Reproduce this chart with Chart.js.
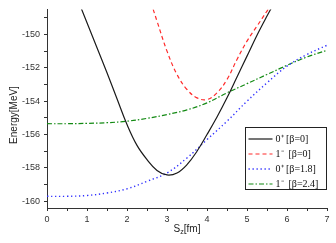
<!DOCTYPE html>
<html>
<head>
<meta charset="utf-8">
<script src="https://cdn.jsdelivr.net/npm/chart.js@4/dist/chart.umd.min.js"></script>
<style>
  html, body { margin: 0; padding: 0; background: #fff; }
  #wrap { position: relative; width: 336px; height: 243px; }
</style>
</head>
<body>
<div id="wrap"><canvas id="chart"></canvas></div>
<script>
// 0+ [beta=0]
const szBlack = [0.75, 1.0, 1.25, 1.5, 1.75, 2.0, 2.25, 2.5, 2.75, 3.0, 3.25, 3.5, 3.75, 4.0, 4.25, 4.5, 4.75, 5.0, 5.25, 5.5, 5.75]
const eBlack = [-147.8, -149.3, -150.8, -152.3, -153.85, -155.4, -156.65, -157.5, -158.15, -158.42, -158.3, -157.8, -157.0, -156.0, -154.95, -153.8, -152.55, -151.3, -150.05, -148.9, -147.8]
// 1- [beta=0]
const szRed = [2.6, 2.75, 3.0, 3.25, 3.5, 3.75, 4.0, 4.25, 4.5, 4.75, 5.0, 5.25, 5.5, 5.75]
const eRed = [-148.1, -149.2, -151.0, -152.4, -153.3, -153.8, -153.9, -153.5, -152.7, -151.5, -150.4, -149.5, -148.6, -147.7]
// 0+ [beta=1.8]
const szBlue = [0, 0.5, 1.0, 1.5, 2.0, 2.5, 3.0, 3.5, 4.0, 4.5, 5.0, 5.5, 6.0, 6.5, 7.0]
const eBlue = [-159.7, -159.7, -159.65, -159.5, -159.25, -158.8, -158.3, -157.4, -156.3, -155.2, -154.0, -152.9, -151.9, -151.2, -150.65]
// 1- [beta=2.4]
const szGreen = [0, 0.5, 1.0, 1.5, 2.0, 2.5, 3.0, 3.5, 4.0, 4.5, 5.0, 5.5, 6.0, 6.5, 7.0]
const eGreen = [-155.35, -155.35, -155.33, -155.29, -155.2, -155.03, -154.8, -154.52, -154.1, -153.5, -152.95, -152.4, -151.85, -151.35, -150.95]

const seriesNames = ["0\u207A [\u03B2=0]", "1\u207B  [\u03B2=0]", "0\u207A [\u03B2=1.8]", "1\u207B  [\u03B2=2.4]"]
const xTitle = ["S", "z", "[fm]"]
const yTitle = "Energy[MeV]"

const axisColor = "#333"
const tickFont = { family: "'Liberation Sans', Arial, sans-serif", size: 9 }

function pts(xs, ys) {
  return xs.map((x, i) => ({ x: x, y: ys[i] }))
}

function line(label, data, color, dash, width) {
  return {
    label: label,
    data: data,
    borderColor: color,
    borderWidth: width,
    borderDash: dash,
    pointRadius: 0,
    fill: false,
    tension: 0.4
  }
}

// legend box + axis titles drawn by hand (subscript / superscripts)
const extras = {
  id: "extras",
  afterDraw(chart) {
    const ctx = chart.ctx
    const area = chart.chartArea
    ctx.save()

    // legend
    const bx = 245.5, by = 127.5, bw = 81, bh = 62
    ctx.fillStyle = "#fff"
    ctx.fillRect(bx, by, bw, bh)
    ctx.strokeStyle = "#222"
    ctx.lineWidth = 1
    ctx.setLineDash([])
    ctx.strokeRect(bx, by, bw, bh)
    chart.data.datasets.forEach((ds, i) => {
      const y = by + 11.5 + i * 15
      ctx.beginPath()
      ctx.strokeStyle = ds.borderColor
      ctx.lineWidth = ds.borderWidth
      ctx.setLineDash(ds.borderDash || [])
      ctx.moveTo(bx + 3, y)
      ctx.lineTo(bx + 27, y)
      ctx.stroke()
      ctx.setLineDash([])
      ctx.fillStyle = "#111"
      ctx.font = "10px 'Liberation Serif', 'Times New Roman', serif"
      ctx.textBaseline = "middle"
      ctx.textAlign = "left"
      ctx.fillText(ds.label, bx + 30, y + 0.5)
    })

    // x title with subscript
    ctx.fillStyle = "#222"
    ctx.textBaseline = "alphabetic"
    const big = "10px 'Liberation Sans', Arial, sans-serif"
    const small = "7px 'Liberation Sans', Arial, sans-serif"
    ctx.font = big
    const w0 = ctx.measureText(xTitle[0]).width
    const w2 = ctx.measureText(xTitle[2]).width
    ctx.font = small
    const w1 = ctx.measureText(xTitle[1]).width
    const total = w0 + w1 + w2
    let x = (area.left + area.right) / 2 - total / 2
    const base = 232
    ctx.font = big
    ctx.fillText(xTitle[0], x, base)
    x += w0
    ctx.font = small
    ctx.fillText(xTitle[1], x, base + 2)
    x += w1
    ctx.font = big
    ctx.fillText(xTitle[2], x, base)

    // y title
    ctx.translate(14, 115)
    ctx.rotate(-Math.PI / 2)
    ctx.font = big
    ctx.textAlign = "center"
    ctx.textBaseline = "middle"
    ctx.fillText(yTitle, 0, 0)
    ctx.restore()
  }
}

new Chart(document.getElementById("chart"), {
  type: "line",
  data: {
    datasets: [
      line(seriesNames[0], pts(szBlack, eBlack), "#1a1a1a", [], 1.2),
      line(seriesNames[1], pts(szRed, eRed), "#ff2a2a", [4, 3], 1.2),
      line(seriesNames[2], pts(szBlue, eBlue), "#3030ff", [1.3, 2.7], 1.4),
      line(seriesNames[3], pts(szGreen, eGreen), "#138a13", [5, 2, 1.5, 2], 1.2)
    ]
  },
  options: {
    responsive: true,
    maintainAspectRatio: false,
    animation: false,
    events: [],
    layout: { padding: { top: 5, right: 9, left: 0, bottom: 0 } },
    plugins: {
      legend: { display: false },
      tooltip: { enabled: false }
    },
    scales: {
      x: {
        type: "linear",
        min: 0,
        max: 7,
        afterFit(scale) { scale.height = 35 },
        border: { display: true, color: axisColor, width: 1 },
        grid: { display: true, drawOnChartArea: false, drawTicks: true, tickLength: 3, color: axisColor },
        ticks: {
          stepSize: 0.5,
          padding: 3,
          color: axisColor,
          font: tickFont,
          maxRotation: 0,
          autoSkip: false,
          callback: v => Number.isInteger(v) ? String(v) : ""
        }
      },
      y: {
        type: "linear",
        min: -160.4,
        max: -148.5,
        afterFit(scale) { scale.width = 47 },
        border: { display: true, color: axisColor, width: 1 },
        grid: { display: true, drawOnChartArea: false, drawTicks: true, tickLength: 3, color: axisColor },
        ticks: {
          stepSize: 1,
          includeBounds: false,
          padding: 4,
          color: axisColor,
          font: tickFont,
          autoSkip: false,
          callback: v => Math.round(v) % 2 === 0 ? String(Math.round(v)) : ""
        }
      }
    }
  },
  plugins: [extras]
})
</script>
</body>
</html>
